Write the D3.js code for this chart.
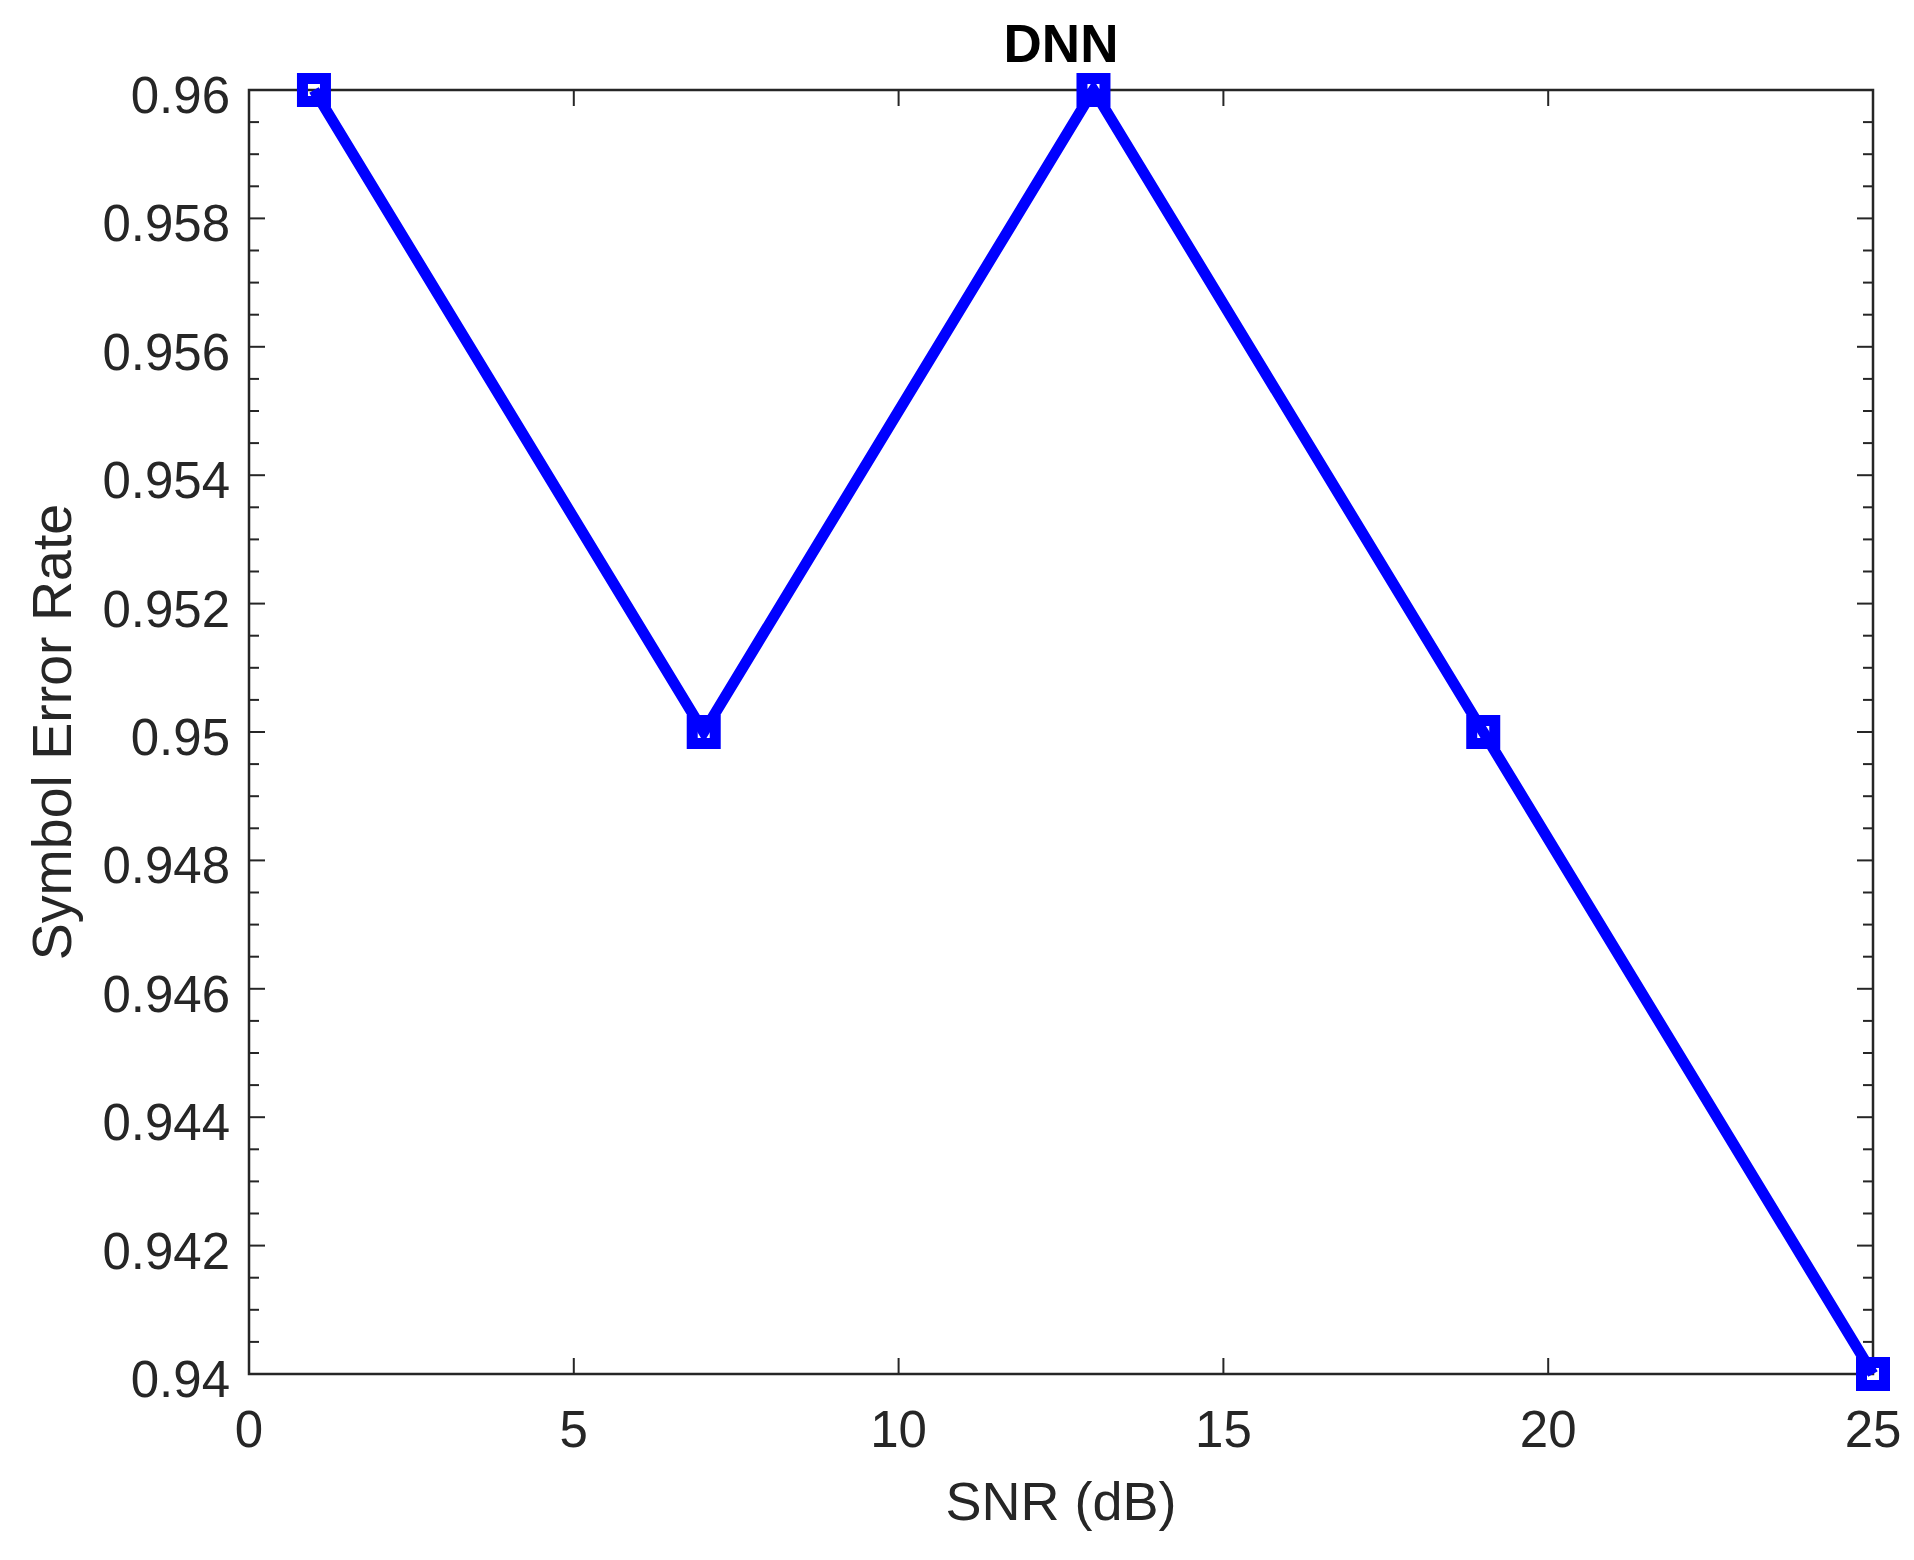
<!DOCTYPE html>
<html>
<head>
<meta charset="utf-8">
<script src="https://cdn.jsdelivr.net/npm/d3@7"></script>
<style>
  html, body { margin: 0; padding: 0; background: #ffffff; }
  svg { display: block; }
  text { font-family: "Liberation Sans", Arial, Helvetica, sans-serif; fill: #262626; }
</style>
</head>
<body>
<script>
// ---- data ----
const snrValues = [1, 7, 13, 19, 25];
const serValues = [0.96, 0.95, 0.96, 0.95, 0.94];
const xTickValues = [0, 5, 10, 15, 20, 25];
const xTickLabels = ["0", "5", "10", "15", "20", "25"];
const yTickValues = [0.94, 0.942, 0.944, 0.946, 0.948, 0.95, 0.952, 0.954, 0.956, 0.958, 0.96];
const yTickLabels = ["0.94", "0.942", "0.944", "0.946", "0.948", "0.95", "0.952", "0.954", "0.956", "0.958", "0.96"];
const titleText = "DNN";
const xLabelText = "SNR (dB)";
const yLabelText = "Symbol Error Rate";

// ---- layout ----
const W = 1914, H = 1560;
const plot = { left: 249, right: 1873, top: 90, bottom: 1374 };
const axisColor = "#262626";
const lineColor = "#0000ff";

const svg = d3.select("body").append("svg").attr("width", W).attr("height", H);

const x = d3.scaleLinear().domain([0, 25]).range([plot.left, plot.right]);
const y = d3.scaleLinear().domain([0.94, 0.96]).range([plot.bottom, plot.top]);

// minor y ticks (3 between majors)
const yMinor = [];
for (let i = 0; i < yTickValues.length - 1; i++) {
  const a = yTickValues[i], b = yTickValues[i + 1];
  for (let k = 1; k < 4; k++) yMinor.push(a + (b - a) * k / 4);
}

const majorLen = 16, minorLen = 10;
const tickG = svg.append("g").attr("stroke", axisColor).attr("stroke-width", 2);

xTickValues.forEach(v => {
  tickG.append("line").attr("x1", x(v)).attr("x2", x(v)).attr("y1", plot.bottom).attr("y2", plot.bottom - majorLen);
  tickG.append("line").attr("x1", x(v)).attr("x2", x(v)).attr("y1", plot.top).attr("y2", plot.top + majorLen);
});
yTickValues.forEach(v => {
  tickG.append("line").attr("x1", plot.left).attr("x2", plot.left + majorLen).attr("y1", y(v)).attr("y2", y(v));
  tickG.append("line").attr("x1", plot.right).attr("x2", plot.right - majorLen).attr("y1", y(v)).attr("y2", y(v));
});
yMinor.forEach(v => {
  tickG.append("line").attr("x1", plot.left).attr("x2", plot.left + minorLen).attr("y1", y(v)).attr("y2", y(v));
  tickG.append("line").attr("x1", plot.right).attr("x2", plot.right - minorLen).attr("y1", y(v)).attr("y2", y(v));
});

svg.append("rect")
  .attr("x", plot.left).attr("y", plot.top)
  .attr("width", plot.right - plot.left).attr("height", plot.bottom - plot.top)
  .attr("fill", "none").attr("stroke", axisColor).attr("stroke-width", 2.5);

// tick labels
const tickFont = 51;
svg.append("g").selectAll("text").data(xTickValues).join("text")
  .attr("x", d => x(d)).attr("y", 1447)
  .attr("text-anchor", "middle").attr("font-size", tickFont)
  .text((d, i) => xTickLabels[i]);

svg.append("g").selectAll("text").data(yTickValues).join("text")
  .attr("x", 230).attr("y", d => y(d) + 23)
  .attr("text-anchor", "end").attr("font-size", tickFont)
  .text((d, i) => yTickLabels[i]);

// axis labels
svg.append("text")
  .attr("x", (plot.left + plot.right) / 2).attr("y", 1520)
  .attr("text-anchor", "middle").attr("font-size", 54)
  .text(xLabelText);

svg.append("text")
  .attr("transform", `translate(71,${(plot.top + plot.bottom) / 2}) rotate(-90)`)
  .attr("text-anchor", "middle").attr("font-size", 55.5)
  .text(yLabelText);

// title
svg.append("text")
  .attr("x", (plot.left + plot.right) / 2).attr("y", 62)
  .attr("text-anchor", "middle").attr("font-size", 53).attr("font-weight", "bold")
  .style("fill", "#000000")
  .text(titleText);

// data line
const pts = snrValues.map((s, i) => [s, serValues[i]]);
svg.append("path")
  .datum(pts)
  .attr("fill", "none").attr("stroke", lineColor).attr("stroke-width", 11)
  .attr("stroke-linejoin", "miter")
  .attr("d", d3.line().x(d => x(d[0])).y(d => y(d[1])));

// markers
const mkStroke = 11, mk = 34 - mkStroke;
svg.append("g").selectAll("rect").data(pts).join("rect")
  .attr("x", d => x(d[0]) - mk / 2).attr("y", d => y(d[1]) - mk / 2)
  .attr("width", mk).attr("height", mk)
  .attr("fill", "none").attr("stroke", lineColor).attr("stroke-width", mkStroke);
</script>
</body>
</html>
